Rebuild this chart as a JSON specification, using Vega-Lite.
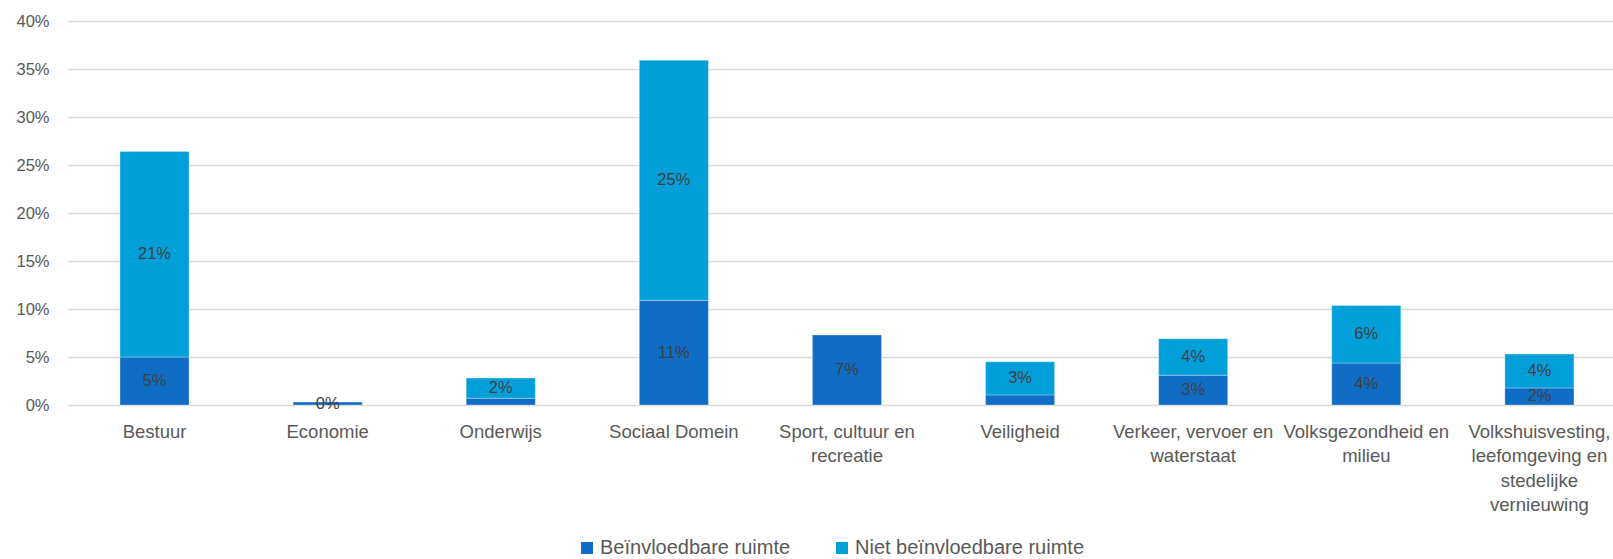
{
  "$schema": "https://vega.github.io/schema/vega-lite/v6.json",
  "width": 1545,
  "height": 384,
  "autosize": {"type": "none"},
  "padding": {"left": 68, "top": 21, "right": 0, "bottom": 154},
  "background": "#ffffff",
  "config": {
    "view": {"stroke": null},
    "font": "Liberation Sans"
  },
  "data": {
    "values": [
      {"category": "Bestuur", "type": "Beïnvloedbare ruimte", "value": 0.050, "label": "5%"},
      {"category": "Bestuur", "type": "Niet beïnvloedbare ruimte", "value": 0.214, "label": "21%"},
      {"category": "Economie", "type": "Beïnvloedbare ruimte", "value": 0.003, "label": "0%"},
      {"category": "Onderwijs", "type": "Beïnvloedbare ruimte", "value": 0.007, "label": ""},
      {"category": "Onderwijs", "type": "Niet beïnvloedbare ruimte", "value": 0.021, "label": "2%"},
      {"category": "Sociaal Domein", "type": "Beïnvloedbare ruimte", "value": 0.109, "label": "11%"},
      {"category": "Sociaal Domein", "type": "Niet beïnvloedbare ruimte", "value": 0.250, "label": "25%"},
      {"category": "Sport, cultuur en recreatie", "type": "Beïnvloedbare ruimte", "value": 0.073, "label": "7%"},
      {"category": "Veiligheid", "type": "Beïnvloedbare ruimte", "value": 0.0105, "label": ""},
      {"category": "Veiligheid", "type": "Niet beïnvloedbare ruimte", "value": 0.0345, "label": "3%"},
      {"category": "Verkeer, vervoer en waterstaat", "type": "Beïnvloedbare ruimte", "value": 0.031, "label": "3%"},
      {"category": "Verkeer, vervoer en waterstaat", "type": "Niet beïnvloedbare ruimte", "value": 0.038, "label": "4%"},
      {"category": "Volksgezondheid en milieu", "type": "Beïnvloedbare ruimte", "value": 0.0437, "label": "4%"},
      {"category": "Volksgezondheid en milieu", "type": "Niet beïnvloedbare ruimte", "value": 0.060, "label": "6%"},
      {"category": "Volkshuisvesting, leefomgeving en stedelijke vernieuwing", "type": "Beïnvloedbare ruimte", "value": 0.0178, "label": "2%"},
      {"category": "Volkshuisvesting, leefomgeving en stedelijke vernieuwing", "type": "Niet beïnvloedbare ruimte", "value": 0.0352, "label": "4%"}
    ]
  },
  "transform": [
    {"stack": "value", "groupby": ["category"], "sort": [{"field": "type", "order": "ascending"}], "as": ["v0", "v1"]}
  ],
  "encoding": {
    "x": {
      "field": "category",
      "type": "nominal",
      "sort": null,
      "scale": {"paddingInner": 0.601, "paddingOuter": 0.263, "align": 0.571},
      "axis": {
        "title": null,
        "domain": false,
        "ticks": false,
        "labelAngle": 0,
        "labelFontSize": 18.5,
        "labelColor": "#595959",
        "labelPadding": 17,
        "labelLineHeight": 24.5,
        "labelLimit": 300,
        "labelOverlap": false,
        "labelBound": false,
        "labelExpr": "datum.value == 'Sport, cultuur en recreatie' ? ['Sport, cultuur en', 'recreatie'] : datum.value == 'Verkeer, vervoer en waterstaat' ? ['Verkeer, vervoer en', 'waterstaat'] : datum.value == 'Volksgezondheid en milieu' ? ['Volksgezondheid en', 'milieu'] : datum.value == 'Volkshuisvesting, leefomgeving en stedelijke vernieuwing' ? ['Volkshuisvesting,', 'leefomgeving en', 'stedelijke', 'vernieuwing'] : datum.value"
      }
    }
  },
  "layer": [
    {
      "mark": {"type": "bar", "stroke": "#ffffff", "strokeWidth": 0.5, "strokeOpacity": 0.6},
      "encoding": {
        "y": {
          "field": "v0",
          "type": "quantitative",
          "scale": {"domain": [0, 0.4]},
          "axis": {
            "title": null,
            "values": [0, 0.05, 0.1, 0.15, 0.2, 0.25, 0.3, 0.35, 0.4],
            "format": ".0%",
            "domain": false,
            "ticks": false,
            "grid": true,
            "gridColor": "#d9d9d9",
            "gridWidth": 1.3,
            "labelFontSize": 16.5,
            "labelColor": "#595959",
            "labelPadding": 19
          }
        },
        "y2": {"field": "v1"},
        "color": {
          "field": "type",
          "type": "nominal",
          "scale": {"domain": ["Beïnvloedbare ruimte", "Niet beïnvloedbare ruimte"], "range": ["#106DC6", "#009FDA"]},
          "legend": {
            "title": null,
            "orient": "none",
            "direction": "horizontal",
            "legendX": 509,
            "legendY": 517,
            "padding": 0,
            "symbolType": "square",
            "symbolSize": 144,
            "symbolStrokeWidth": 0,
            "labelFontSize": 20,
            "labelColor": "#595959",
            "labelOffset": 3,
            "labelLimit": 400,
            "columnPadding": 41
          }
        }
      }
    },
    {
      "transform": [
        {"fold": ["v0", "v1"], "as": ["edge", "pos"]},
        {"aggregate": [{"op": "mean", "field": "pos", "as": "mid"}], "groupby": ["category", "type", "label"]}
      ],
      "mark": {"type": "text", "fontSize": 16.5, "color": "#404040", "baseline": "middle", "align": "center"},
      "encoding": {
        "y": {"field": "mid", "type": "quantitative"},
        "text": {"field": "label"}
      }
    }
  ]
}
